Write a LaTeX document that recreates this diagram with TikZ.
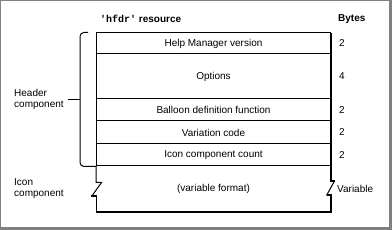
\documentclass[tikz,border=0pt]{standalone}
\usepackage{fontspec}
\setmainfont{Liberation Sans}
\setmonofont{Liberation Mono}
\definecolor{framegray}{RGB}{128,128,128}
\begin{document}
\begin{tikzpicture}[x=1pt,y=-1pt,
  txt/.style={inner sep=0pt,font=\fontsize{10}{11}\selectfont},
  lbl/.style={txt,anchor=west,align=left},
  hdr/.style={inner sep=0pt,font=\fontsize{10}{11}\selectfont\bfseries,anchor=west},
  boxline/.style={line width=1pt},
  heavy/.style={line width=2pt}]
\useasboundingbox (0,0) rectangle (392,230);
\fill[white] (0,0) rectangle (392,230);
% gray frame
\fill[framegray] (0,0) rectangle (1,230);
\fill[framegray] (0,0) rectangle (392,1);
\fill[framegray] (389,0) rectangle (392,230);
\fill[framegray] (0,227) rectangle (392,230);
% headers
\node[hdr] (title) at (100,19) {{\ttfamily\bfseries 'hfdr'} resource};
\node[hdr] (bytes) at (338,19) {Bytes};
% box outline
\draw[boxline] (96,33) -- (331,33);
\draw[boxline] (96,33) -- (96,166);
\draw[heavy] (331,33) -- (331,166);
\foreach \yy in {54,99,121,144,166} \draw[boxline] (96,\yy) -- (331,\yy);
% break marks
\draw[boxline] (96,166) -- (96,182.5) -- (101.5,182.5) -- (91.5,196.5);
\draw[heavy] (91,196.5) -- (96.5,196.5);
\draw[boxline] (96,196.5) -- (96,212);
\draw[heavy] (331,166) -- (331,181) (330,181) -- (335,181);
\draw[boxline] (334.5,181) -- (326.5,195.5);
\draw[heavy] (326.5,195.5) -- (332,195.5) (331,195.5) -- (331,213);
\draw[heavy] (95.5,212) -- (332,212);
% row texts
\node[txt] (r1) at (213.5,43.5) {Help Manager version};
\node[txt] (r2) at (213.5,76.5) {Options};
\node[txt] (r3) at (213.5,110) {Balloon definition function};
\node[txt] (r4) at (213.5,132.5) {Variation code};
\node[txt] (r5) at (213.5,155) {Icon component count};
\node[txt] (r6) at (213.5,189) {(variable format)};
% byte counts
\node[lbl] (b1) at (339,43.5) {2};
\node[lbl] (b2) at (339,76.5) {4};
\node[lbl] (b3) at (339,110) {2};
\node[lbl] (b4) at (339,132.5) {2};
\node[lbl] (b5) at (339,155) {2};
\node[lbl] (b6) at (337,189) {Variable};
% bracket
\draw[boxline,rounded corners=4pt] (88,32.5) -- (80,32.5) -- (80,166.5) -- (96,166.5);
\coordinate (tick) at (80,99.5);
\node[lbl] (hc) at (14,99) {Header\\component};
\draw[boxline] (tick) -- ++(-12,0);
\node[lbl] (ic) at (14,188.5) {Icon\\component};
\end{tikzpicture}
\end{document}
